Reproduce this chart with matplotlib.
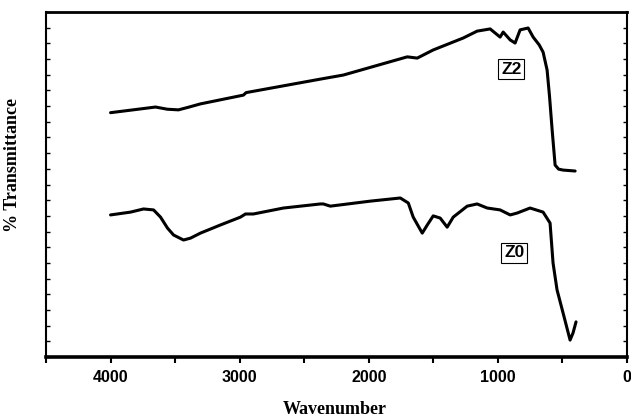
import numpy as np
import matplotlib
matplotlib.use("Agg")
import matplotlib.pyplot as plt
from matplotlib.ticker import MultipleLocator, NullFormatter

# wavenumber (cm-1) and transmittance
z2_wn = [4000, 3845, 3652, 3560, 3474, 3400, 3304, 2971, 2950, 2375, 2197, 1702,
         1625, 1501, 1269, 1161, 1060, 983, 959, 905, 867, 828, 766, 727, 680,
         650, 619, 600, 580, 557, 530, 495, 402]
z2_t = [77.9, 78.7, 79.7, 79.0, 78.8, 79.6, 80.7, 83.5, 84.3, 88.6, 89.9, 95.7,
        95.3, 97.9, 101.7, 103.9, 104.6, 102.0, 103.6, 101.1, 100.1, 104.3, 104.9,
        102.0, 99.5, 97.2, 91.5, 83.0, 72.4, 61.2, 59.9, 59.6, 59.3]

z0_wn = [4000, 3845, 3745, 3667, 3613, 3559, 3512, 3435, 3381, 3304, 3149, 2994,
         2955, 2894, 2661, 2375, 2352, 2298, 1988, 1756, 1694, 1656, 1586, 1547,
         1501, 1447, 1393, 1346, 1238, 1161, 1083, 983, 905, 851, 751, 650, 596,
         573, 542, 495, 441, 418, 395]
z0_t = [45.3, 46.2, 47.2, 46.9, 44.6, 41.1, 38.9, 37.3, 37.9, 39.5, 42.1, 44.6,
        45.6, 45.6, 47.5, 48.8, 48.8, 48.1, 49.7, 50.7, 49.1, 44.6, 39.5, 42.1,
        45.0, 44.3, 41.4, 44.6, 48.1, 48.8, 47.5, 46.9, 45.3, 45.9, 47.5, 46.2, 42.7,
        30.0, 21.4, 14.0, 5.4, 7.7, 11.2]

labels = ["Z2", "Z0"]
label_pos = [(897, 91.8), (874, 33.2)]

fig = plt.figure(figsize=(6.31, 4.18), dpi=100)
ax = fig.add_axes([0.0729, 0.1459, 0.9208, 0.8254])

ax.plot(z2_wn, z2_t, color="black", lw=2.2, solid_capstyle="round", solid_joinstyle="round")
ax.plot(z0_wn, z0_t, color="black", lw=2.2, solid_capstyle="round", solid_joinstyle="round")

for lab, (x, y) in zip(labels, label_pos):
    ax.text(x, y, lab, ha="center", va="center", fontsize=12.5, fontweight="bold",
            family="Liberation Sans",
            bbox=dict(boxstyle="square,pad=0.15", fc="white", ec="black", lw=0.8))

ax.set_xlim(4500, 0)
ax.set_ylim(0, 110)

ax.xaxis.set_major_locator(MultipleLocator(1000))
ax.xaxis.set_minor_locator(MultipleLocator(500))
ax.yaxis.set_major_locator(MultipleLocator(5))
ax.yaxis.set_major_formatter(NullFormatter())

ax.tick_params(axis="x", which="both", direction="out", length=4, width=1.5,
               top=False, labelsize=11.5, pad=5)
ax.tick_params(axis="y", direction="in", length=3, width=1, left=True, right=True)
for t in ax.get_xticklabels():
    t.set_fontweight("bold")
    t.set_family("Liberation Sans")

ax.spines["bottom"].set_linewidth(2.6)
ax.spines["top"].set_linewidth(2.0)
ax.spines["left"].set_linewidth(1.5)
ax.spines["right"].set_linewidth(1.5)

# axis titles placed in figure coords to match the reference
fig.text(335 / 631, 1 - 409 / 418, "Wavenumber", ha="center", va="center",
         fontsize=13, fontweight="bold", family="Liberation Serif")
fig.text(13 / 631, 1 - 165 / 418, "% Transmittance", ha="center", va="center",
         rotation=90, fontsize=13, fontweight="bold", family="Liberation Serif")

fig.savefig("out.png", dpi=100)
